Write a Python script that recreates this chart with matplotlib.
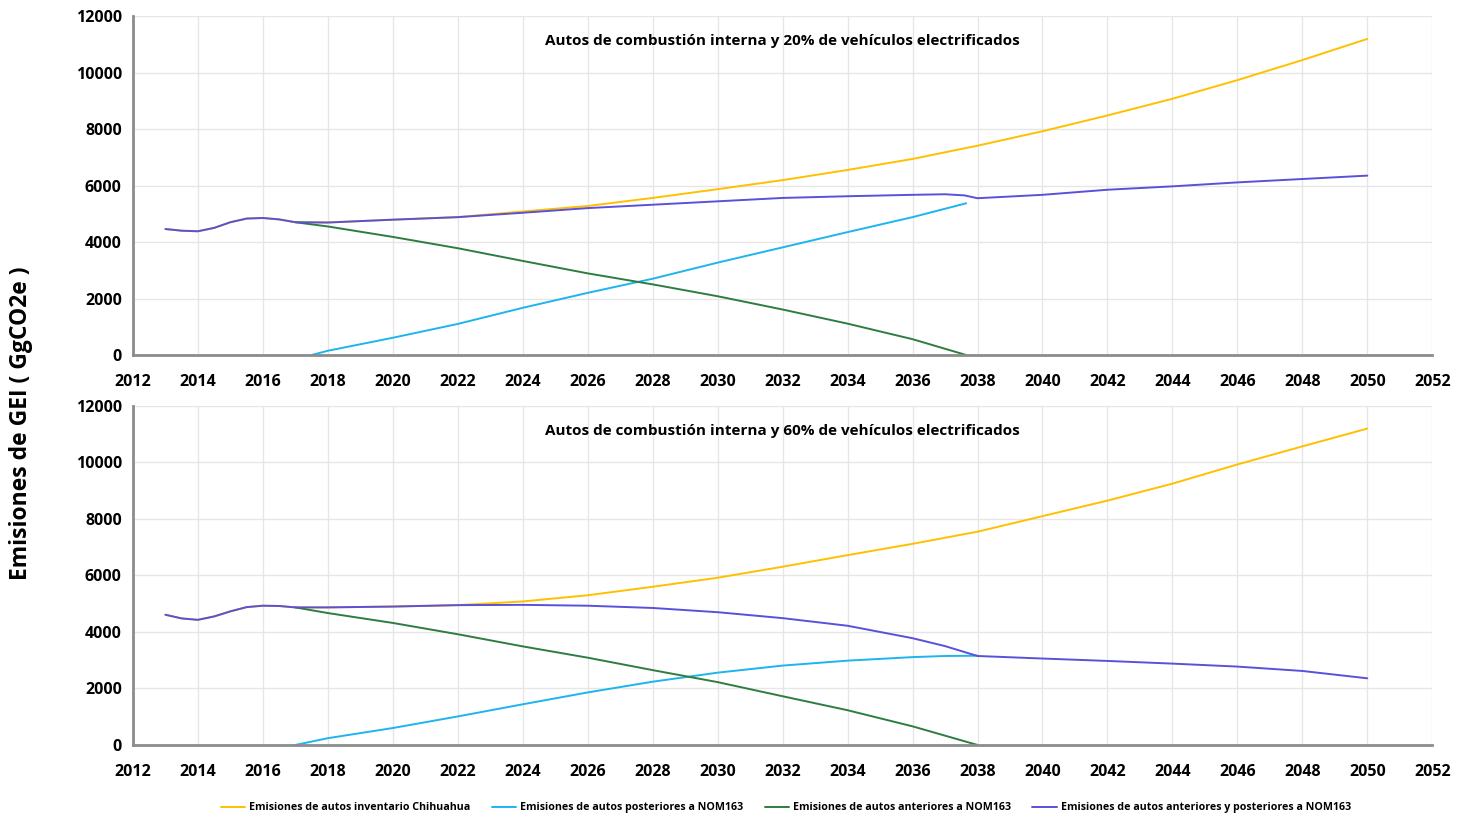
import matplotlib
matplotlib.use("Agg")
import matplotlib.pyplot as plt

plt.rcParams['font.family'] = ['Open Sans', 'DejaVu Sans']

# --- datos: escenario 20 % ---
anios_inv_20 = [2013, 2013.5, 2014, 2014.5, 2015, 2015.5, 2016, 2016.5, 2017, 2018, 2020, 2022,
                2024, 2026, 2028, 2030, 2032, 2034, 2036, 2038, 2040, 2042, 2044, 2046, 2048, 2050]
inv_20 = [4460, 4400, 4380, 4500, 4700, 4830, 4850, 4800, 4700, 4690, 4790, 4880,
          5080, 5275, 5560, 5870, 6190, 6550, 6940, 7410, 7920, 8480, 9070, 9730, 10440, 11190]

anios_post_20 = [2017.5, 2018, 2020, 2022, 2024, 2026, 2028, 2030, 2032, 2034, 2036, 2037.65]
post_20 = [0, 150, 610, 1100, 1670, 2200, 2700, 3270, 3810, 4350, 4880, 5370]

anios_ant_20 = [2017, 2018, 2020, 2022, 2024, 2026, 2028, 2030, 2032, 2034, 2036, 2037.65]
ant_20 = [4700, 4550, 4180, 3780, 3330, 2890, 2500, 2080, 1610, 1110, 560, 0]

anios_tot_20 = [2013, 2013.5, 2014, 2014.5, 2015, 2015.5, 2016, 2016.5, 2017, 2018, 2020, 2022,
                2024, 2026, 2028, 2030, 2032, 2034, 2036, 2037, 2037.6, 2038, 2040, 2042, 2044,
                2046, 2048, 2050]
tot_20 = [4460, 4400, 4380, 4500, 4700, 4830, 4850, 4800, 4700, 4690, 4790, 4880,
          5035, 5200, 5320, 5440, 5560, 5620, 5670, 5690, 5650, 5550, 5670, 5850, 5970,
          6110, 6230, 6350]

# --- datos: escenario 60 % ---
anios_inv_60 = [2013, 2013.5, 2014, 2014.5, 2015, 2015.5, 2016, 2016.5, 2017, 2018, 2020, 2022,
                2024, 2026, 2028, 2030, 2032, 2034, 2036, 2038, 2040, 2042, 2044, 2046, 2048, 2050]
inv_60 = [4610, 4480, 4430, 4550, 4730, 4880, 4930, 4920, 4870, 4870, 4900, 4950,
          5080, 5300, 5600, 5920, 6310, 6720, 7120, 7550, 8100, 8650, 9250, 9930, 10570, 11200]

anios_post_60 = [2017, 2018, 2020, 2022, 2024, 2026, 2028, 2030, 2032, 2034, 2036, 2037, 2038]
post_60 = [0, 240, 600, 1010, 1440, 1860, 2240, 2560, 2810, 2985, 3110, 3150, 3160]

anios_ant_60 = [2017, 2018, 2020, 2022, 2024, 2026, 2028, 2030, 2032, 2034, 2036, 2038]
ant_60 = [4870, 4670, 4320, 3920, 3490, 3090, 2650, 2225, 1725, 1230, 660, 0]

anios_tot_60 = [2013, 2013.5, 2014, 2014.5, 2015, 2015.5, 2016, 2016.5, 2017, 2018, 2020, 2022,
                2024, 2026, 2028, 2030, 2032, 2034, 2036, 2037, 2038, 2040, 2042, 2044,
                2046, 2048, 2050]
tot_60 = [4610, 4480, 4430, 4550, 4730, 4880, 4930, 4920, 4870, 4870, 4900, 4950,
          4960, 4930, 4850, 4700, 4490, 4220, 3780, 3500, 3150, 3060, 2975, 2880,
          2775, 2620, 2360]

etiquetas = ["Emisiones de autos inventario Chihuahua",
             "Emisiones de autos posteriores a NOM163",
             "Emisiones de autos anteriores a NOM163",
             "Emisiones de autos anteriores y posteriores a NOM163"]
colores = ["#FFC000", "#1EB4EE", "#2E7D40", "#5A50DC"]

titulos = ["Autos de combustión interna y 20% de vehículos electrificados",
           "Autos de combustión interna y 60% de vehículos electrificados"]

anios_ticks = list(range(2012, 2053, 2))
y_ticks = list(range(0, 12001, 2000))


def dibujar(ax, series, titulo):
    for (x, y), color, etq in zip(series, colores, etiquetas):
        ax.plot(x, y, color=color, lw=1.4, label=etq, solid_capstyle='round')
    ax.set_xlim(2012, 2052)
    ax.set_ylim(0, 12000)
    ax.set_xticks(anios_ticks)
    ax.set_yticks(y_ticks)
    ax.grid(True, color="#e6e6e6", lw=1)
    ax.set_axisbelow(True)
    for s in ["top", "right"]:
        ax.spines[s].set_visible(False)
    for s in ["left", "bottom"]:
        ax.spines[s].set_color("#8c8c8c")
        ax.spines[s].set_linewidth(2)
    ax.tick_params(length=0, labelsize=11.5)
    ax.tick_params(axis='x', pad=14)
    ax.tick_params(axis='y', pad=8)
    for lab in ax.get_xticklabels() + ax.get_yticklabels():
        lab.set_fontweight('bold')
    ax.text(0.5, 0.926, titulo, transform=ax.transAxes, ha='center', va='center',
            fontsize=11, fontweight='bold')


fig = plt.figure(figsize=(14.69, 8.21), dpi=100)
ax1 = fig.add_axes([0.0905, 0.5676, 0.8845, 0.4129])
ax2 = fig.add_axes([0.0905, 0.0926, 0.8845, 0.4129])

dibujar(ax1, [(anios_inv_20, inv_20), (anios_post_20, post_20),
              (anios_ant_20, ant_20), (anios_tot_20, tot_20)], titulos[0])
dibujar(ax2, [(anios_inv_60, inv_60), (anios_post_60, post_60),
              (anios_ant_60, ant_60), (anios_tot_60, tot_60)], titulos[1])

fig.text(0.014, 0.485, "Emisiones de GEI ( GgCO2e )", rotation=90, ha='center', va='center',
         fontsize=16.5, fontweight='bold')

h, l = ax2.get_legend_handles_labels()
fig.legend(h, l, loc='center', bbox_to_anchor=(0.535, 0.016), ncol=4, frameon=False,
           handlelength=2.3, handletextpad=0.35, columnspacing=2.0,
           prop={'weight': 'bold', 'size': 7.7})

fig.savefig("out.png", dpi=100)
